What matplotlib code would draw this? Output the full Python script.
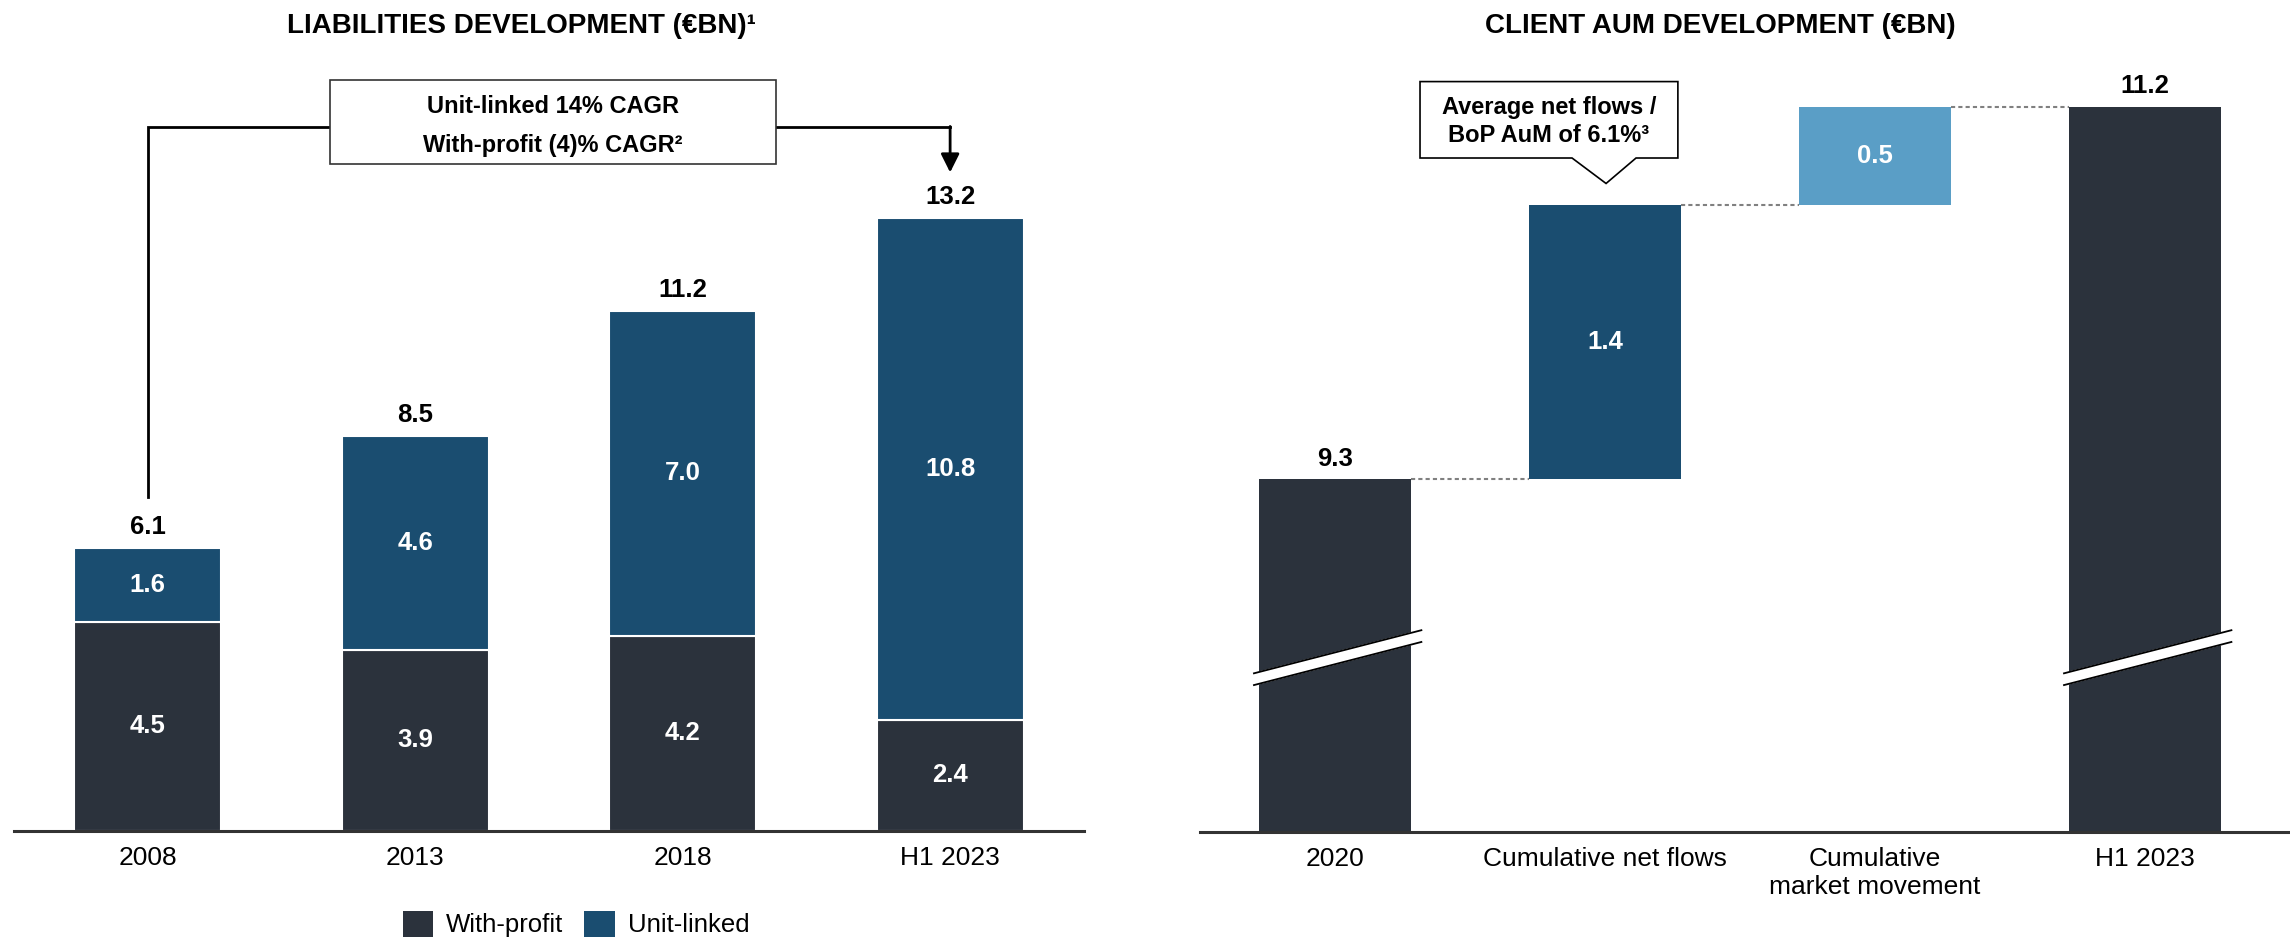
import numpy as np
import matplotlib.pyplot as plt
from matplotlib.patches import Rectangle, Polygon, Patch

plt.rcParams['font.family'] = ['Liberation Sans', 'DejaVu Sans']

# Left chart data
years = ['2008', '2013', '2018', 'H1 2023']
with_profit = [4.5, 3.9, 4.2, 2.4]
unit_linked = [1.6, 4.6, 7.0, 10.8]
totals = [6.1, 8.5, 11.2, 13.2]

# Right chart data (waterfall)
aum_labels = ['2020', 'Cumulative net flows', 'Cumulative\nmarket movement', 'H1 2023']
aum_start = 9.3
aum_changes = [1.4, 0.5]
aum_end = 11.2

DARK = '#2b323c'
BLUE = '#1a4d70'
LIGHT = '#5a9ec6'
VAL_FS = 18.5
TICK_FS = 19
BOX_FS = 17

fig = plt.figure(figsize=(22.9, 9.41), dpi=100)

# ---------------- left: liabilities ----------------
ax1 = fig.add_axes([0.0061, 0.1169, 0.4672, 0.8193])
x = np.arange(len(years))
w = 0.55
ax1.bar(x, with_profit, w, color=DARK, edgecolor='white', linewidth=1.5)
ax1.bar(x, unit_linked, w, bottom=with_profit, color=BLUE, edgecolor='white', linewidth=1.5)
ax1.set_xlim(-0.5, 3.5)
ax1.set_ylim(0, 16.6)

for i in range(len(years)):
    ax1.text(x[i], with_profit[i] / 2, f'{with_profit[i]:.1f}', ha='center', va='center',
             color='white', fontsize=VAL_FS, fontweight='bold')
    ax1.text(x[i], with_profit[i] + unit_linked[i] / 2, f'{unit_linked[i]:.1f}', ha='center',
             va='center', color='white', fontsize=VAL_FS, fontweight='bold')
    ax1.annotate(f'{totals[i]:.1f}', (x[i], totals[i]), xytext=(0, 15), textcoords='offset points',
                 ha='center', va='center', fontsize=VAL_FS, fontweight='bold')

# CAGR bracket
bracket_y = 15.15
ax1.plot([x[0], x[0], 0.68], [totals[0] + 1.1, bracket_y, bracket_y], color='black', lw=2,
         clip_on=False, solid_joinstyle='miter')
ax1.plot([2.35, x[-1]], [bracket_y, bracket_y], color='black', lw=2, clip_on=False)
ax1.annotate('', xy=(x[-1], totals[-1] + 0.98), xytext=(x[-1], bracket_y + 0.02),
             arrowprops=dict(arrowstyle='-|>', lw=2, color='black', mutation_scale=28,
                             shrinkA=0, shrinkB=0))
ax1.add_patch(Rectangle((0.68, 14.37), 1.67, 1.79, facecolor='white', edgecolor='#333333',
                        lw=1.2, clip_on=False, zorder=3))
ax1.text(1.515, 15.6, 'Unit-linked 14% CAGR', ha='center', va='center', fontsize=BOX_FS,
         fontweight='bold', zorder=4)
ax1.text(1.515, 14.75, 'With-profit (4)% CAGR²', ha='center', va='center', fontsize=BOX_FS,
         fontweight='bold', zorder=4)

# ---------------- right: client AuM ----------------
ax2 = fig.add_axes([0.524, 0.1158, 0.476, 0.8204])
xr = np.arange(len(aum_labels))
wr = 0.56
levels = [aum_start, aum_start + aum_changes[0], aum_start + sum(aum_changes)]
bottoms = [0, aum_start, levels[1], 0]
heights = [aum_start, aum_changes[0], aum_changes[1], aum_end]
colors = [DARK, BLUE, LIGHT, DARK]
ax2.bar(xr, heights, wr, bottom=bottoms, color=colors)
ax2.set_xlim(-0.5, 3.537)
ax2.set_ylim(7.5, 11.44)

tops = [aum_start, levels[1], levels[2], aum_end]
for i in range(3):
    ax2.plot([xr[i] + wr / 2, xr[i + 1] - wr / 2], [tops[i], tops[i]], color='#808080',
             lw=1.5, ls=(0, (2, 1.5)))

ax2.annotate(f'{aum_start:.1f}', (xr[0], aum_start), xytext=(0, 15), textcoords='offset points',
             ha='center', va='center', fontsize=VAL_FS, fontweight='bold')
ax2.annotate(f'{aum_end:.1f}', (xr[3], aum_end), xytext=(0, 15), textcoords='offset points',
             ha='center', va='center', fontsize=VAL_FS, fontweight='bold')
for i in (1, 2):
    ax2.text(xr[i], bottoms[i] + heights[i] / 2, f'{heights[i]:.1f}', ha='center', va='center',
             color='white', fontsize=VAL_FS, fontweight='bold')

# axis break marks
for i in (0, 3):
    xl, xh = xr[i] - wr / 2 - 0.02, xr[i] + wr / 2 + 0.04
    ax2.fill([xl, xh, xh, xl], [8.25, 8.47, 8.53, 8.31], color='white', zorder=3, clip_on=False)
    ax2.plot([xl, xh], [8.31, 8.53], color='black', lw=1.3, zorder=4)
    ax2.plot([xl, xh], [8.25, 8.47], color='black', lw=1.3, zorder=4)

# callout
bx0, bx1, by0, by1 = 0.315, 1.27, 10.94, 11.33
callout = Polygon([(bx0, by1), (bx1, by1), (bx1, by0), (1.115, by0), (1.004, 10.81),
                   (0.878, by0), (bx0, by0)], closed=True, facecolor='white',
                  edgecolor='black', lw=1.2, clip_on=False, zorder=3)
ax2.add_patch(callout)
ax2.text((bx0 + bx1) / 2, 11.2, 'Average net flows /', ha='center', va='center', fontsize=BOX_FS,
         fontweight='bold', zorder=4)
ax2.text((bx0 + bx1) / 2, 11.055, 'BoP AuM of 6.1%³', ha='center', va='center', fontsize=BOX_FS,
         fontweight='bold', zorder=4)

for ax, labels in ((ax1, years), (ax2, aum_labels)):
    for s in ('top', 'right', 'left'):
        ax.spines[s].set_visible(False)
    ax.spines['bottom'].set_color('#333333')
    ax.spines['bottom'].set_linewidth(2.2)
    ax.set_yticks([])
    ax.set_xticks(np.arange(len(labels)))
    ax.set_xticklabels(labels, fontsize=TICK_FS)
    ax.tick_params(axis='x', length=0, pad=11)

fig.text(287 / 2290, 1 - 33 / 941, 'LIABILITIES DEVELOPMENT (€BN)¹', ha='left', va='baseline',
         fontsize=20, fontweight='bold')
fig.text(1485 / 2290, 1 - 33 / 941, 'CLIENT AUM DEVELOPMENT (€BN)', ha='left', va='baseline',
         fontsize=20, fontweight='bold')

handles = [Patch(facecolor=DARK, label='With-profit'), Patch(facecolor=BLUE, label='Unit-linked')]
fig.legend(handles=handles, loc='center', bbox_to_anchor=(576 / 2290, 17 / 941), ncol=2,
           frameon=False, fontsize=18.5, handlelength=1.2, handleheight=1.2, handletextpad=0.5,
           columnspacing=0.8)

fig.savefig('out.png', dpi=100)
